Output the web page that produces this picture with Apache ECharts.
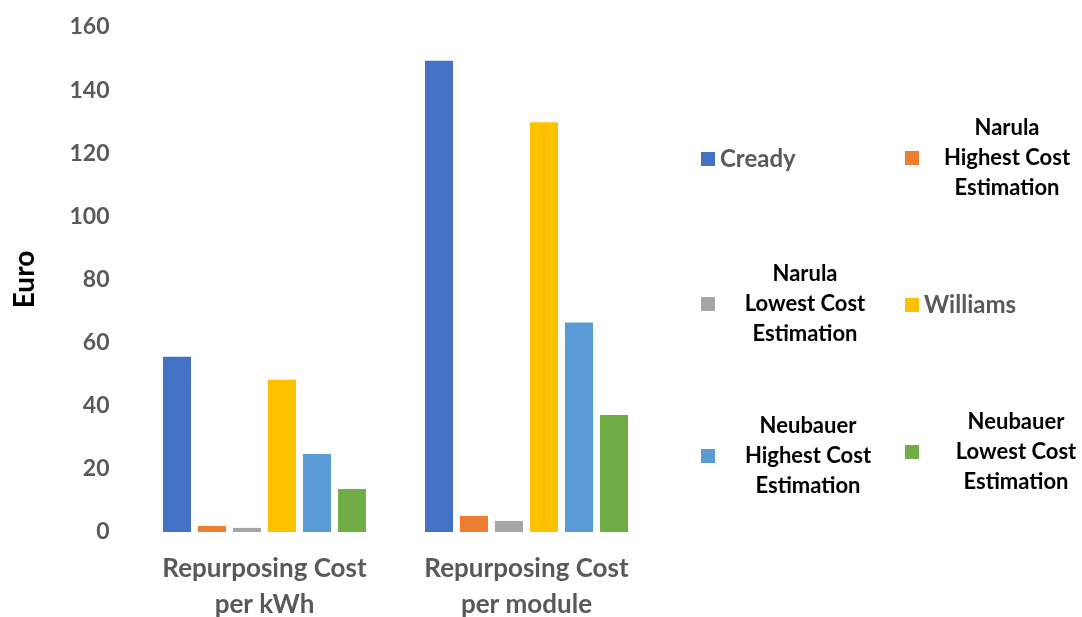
<!DOCTYPE html>
<html>
<head>
<meta charset="utf-8">
<title>Repurposing Cost</title>
<script src="https://cdn.jsdelivr.net/npm/echarts@6/dist/echarts.min.js"></script>
<style>
  html, body { margin: 0; padding: 0; background: #fff; }
  #chart { width: 1082px; height: 617px; }
</style>
</head>
<body>
<div id="chart"></div>
<script>
// Repurposing cost estimates (Euro)
const categories = ['Repurposing Cost\nper kWh', 'Repurposing Cost\nper module'];
const seriesNames = [
  'Cready',
  'Narula Highest Cost Estimation',
  'Narula Lowest Cost Estimation',
  'Williams',
  'Neubauer Highest Cost Estimation',
  'Neubauer Lowest Cost Estimation'
];
const cready = [55.5, 149.3];
const narulaHigh = [1.9, 5.1];
const narulaLow = [1.3, 3.5];
const williams = [48.2, 129.8];
const neubauerHigh = [24.7, 66.4];
const neubauerLow = [13.6, 37.1];
const yTicks = [0, 20, 40, 60, 80, 100, 120, 140, 160];

const values = [cready, narulaHigh, narulaLow, williams, neubauerHigh, neubauerLow];
const colors = ['#4472C4', '#ED7D31', '#A5A5A5', '#FFC000', '#5B9BD5', '#70AD47'];

const FONT = 'Lato, "Open Sans", sans-serif';
const GREY = '#595959';

// legend lines, drawn centered in a fixed-width box beside the swatch
const legendLines = [
  ['Cready'],
  ['Narula', 'Highest Cost', 'Estimation'],
  ['Narula', 'Lowest Cost', 'Estimation'],
  ['Williams'],
  ['Neubauer', 'Highest Cost', 'Estimation'],
  ['Neubauer', 'Lowest Cost', 'Estimation']
];
const legendSlots = [
  { left: 701, mid: 162, w: 0, color: GREY, size: 24 },
  { left: 905, mid: 162, w: 166, color: '#000', size: 22 },
  { left: 701, mid: 308, w: 170, color: '#000', size: 22 },
  { left: 905, mid: 308, w: 0, color: GREY, size: 24 },
  { left: 701, mid: 460, w: 176, color: '#000', size: 22 },
  { left: 905, mid: 456, w: 184, color: '#000', size: 22 }
];
const LINE_H = 30;

const legends = seriesNames.map(function (name, i) {
  const slot = legendSlots[i];
  const lines = legendLines[i];
  const rich = {
    c: {
      align: 'center',
      width: slot.w || undefined,
      lineHeight: LINE_H,
      fontFamily: FONT,
      fontWeight: 'bold',
      fontSize: slot.size,
      color: slot.color
    }
  };
  return {
    data: [name],
    left: slot.left,
    top: slot.mid - (lines.length * LINE_H) / 2,
    padding: 0,
    icon: 'rect',
    itemWidth: 14,
    itemHeight: 14,
    selectedMode: false,
    formatter: function () {
      return lines.map(function (l) { return '{c|' + l + '}'; }).join('\n');
    },
    textStyle: { rich: rich, color: slot.color, fontFamily: FONT, fontWeight: 'bold', fontSize: slot.size }
  };
});

const chart = echarts.init(document.getElementById('chart'), null, { renderer: 'canvas' });
chart.setOption({
  backgroundColor: '#fff',
  animation: false,
  legend: legends,
  grid: { left: 133.5, right: 424.5, top: 27, bottom: 85, outerBoundsMode: 'none' },
  xAxis: {
    type: 'category',
    data: categories,
    axisLine: { show: false },
    axisTick: { show: false },
    axisLabel: {
      interval: 0,
      margin: 19,
      color: GREY,
      fontFamily: FONT,
      fontWeight: 'bold',
      fontSize: 26,
      lineHeight: 36
    }
  },
  yAxis: {
    type: 'value',
    min: yTicks[0],
    max: yTicks[yTicks.length - 1],
    interval: yTicks[1] - yTicks[0],
    name: 'Euro',
    nameLocation: 'middle',
    nameGap: 95,
    nameTextStyle: { color: '#000', fontFamily: FONT, fontWeight: 'bold', fontSize: 28 },
    axisLine: { show: false },
    axisTick: { show: false },
    splitLine: { show: false },
    axisLabel: {
      margin: 24,
      color: GREY,
      fontFamily: FONT,
      fontWeight: 'bold',
      fontSize: 23
    }
  },
  series: seriesNames.map(function (name, i) {
    return {
      name: name,
      type: 'bar',
      data: values[i],
      barWidth: 28,
      barGap: '25%',
      itemStyle: { color: colors[i] }
    };
  })
});
</script>
</body>
</html>
